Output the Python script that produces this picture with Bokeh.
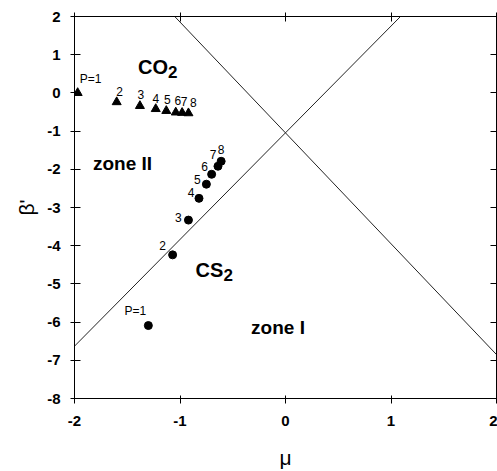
from bokeh.plotting import figure
from bokeh.models import Range1d, LinearAxis, FixedTicker, ColumnDataSource
from bokeh.core.properties import value
from bokeh.embed import file_html
from bokeh.resources import INLINE

# ---- data ----
mu_ticks = [-2, -1, 0, 1, 2]
mu_tick_labels = ["-2", "-1", "0", "1", "2"]
beta_ticks = [2, 1, 0, -1, -2, -3, -4, -5, -6, -7, -8]
beta_tick_labels = ["2", "1", "0", "-1", "-2", "-3", "-4", "-5", "-6", "-7", "-8"]

co2_P = ["P=1", "2", "3", "4", "5", "6", "7", "8"]
co2_mu = [-1.97, -1.60, -1.38, -1.23, -1.13, -1.04, -0.98, -0.92]
co2_beta = [0.00, -0.24, -0.34, -0.42, -0.47, -0.51, -0.52, -0.53]

cs2_P = ["P=1", "2", "3", "4", "5", "6", "7", "8"]
cs2_mu = [-1.30, -1.07, -0.92, -0.82, -0.75, -0.70, -0.64, -0.61]
cs2_beta = [-6.09, -4.24, -3.33, -2.76, -2.39, -2.13, -1.92, -1.79]

asc_mu = [-2.0, 1.09]
asc_beta = [-6.63, 2.0]
desc_mu = [-1.05, 2.0]
desc_beta = [2.0, -6.85]

# label offsets (screen pixels) - styling
co2_dx = [13, 3, 1, 0, 1, 2, 2, 5]
co2_dy = [-14, -11, -11, -10, -11, -12, -11, -11]
cs2_dx = [-13, -10, -10, -8, -9, -7, -5, 0]
cs2_dy = [-15, -9, -3, -6, -5, -8, -12, -12]

FONT = "Liberation Sans"

p = figure(width=497, height=471, output_backend="svg", toolbar_location=None,
           x_range=Range1d(-2, 2), y_range=Range1d(-8, 2),
           min_border_left=74, min_border_right=1, min_border_top=16, min_border_bottom=72)
p.background_fill_color = "white"
p.border_fill_color = "white"
p.outline_line_color = "black"
p.outline_line_width = 1
p.xgrid.visible = False
p.ygrid.visible = False

def style_axis(ax, ticks, labels, show_labels=True, tin=4, tout=5, standoff=10):
    ax.ticker = FixedTicker(ticks=ticks)
    if show_labels:
        ax.major_label_overrides = {t: l for t, l in zip(ticks, labels)}
    else:
        ax.major_label_overrides = {t: "" for t in ticks}
    ax.minor_tick_line_color = None
    ax.major_tick_in = tin
    ax.major_tick_out = tout
    ax.axis_line_color = "black"
    ax.major_tick_line_color = "black"
    ax.major_label_text_font = FONT
    ax.major_label_text_font_style = "bold"
    ax.major_label_text_font_size = "15px"
    ax.major_label_text_color = "black"
    ax.major_label_standoff = standoff

style_axis(p.xaxis[0], mu_ticks, mu_tick_labels, tin=3, tout=5, standoff=12)
style_axis(p.yaxis[0], beta_ticks, beta_tick_labels, tin=6, tout=4, standoff=10)
p.xaxis.axis_label = "μ"
p.yaxis.axis_label = "β'"
for ax in (p.xaxis[0], p.yaxis[0]):
    ax.axis_label_text_font = FONT
    ax.axis_label_text_font_style = "normal"
    ax.axis_label_text_font_size = "21px"
    ax.axis_label_text_color = "black"
p.xaxis.axis_label_standoff = 17
p.yaxis.axis_label_standoff = 6

top = LinearAxis()
style_axis(top, mu_ticks, mu_tick_labels, show_labels=False, tin=5, tout=4, standoff=0)
p.add_layout(top, "above")
right = LinearAxis()
style_axis(right, beta_ticks, beta_tick_labels, show_labels=False, tin=6, tout=0, standoff=0)
p.add_layout(right, "right")

# boundary lines
p.line(asc_mu, asc_beta, line_color="#222222", line_width=1)
p.line(desc_mu, desc_beta, line_color="#222222", line_width=1)

co2 = ColumnDataSource(dict(mu=co2_mu, beta=co2_beta, P=co2_P, dx=co2_dx, dy=co2_dy))
cs2 = ColumnDataSource(dict(mu=cs2_mu, beta=cs2_beta, P=cs2_P, dx=cs2_dx, dy=cs2_dy))

p.scatter("mu", "beta", source=co2, marker="triangle", size=9, fill_color="black", line_color="black")
p.scatter("mu", "beta", source=cs2, marker="circle", size=8, fill_color="black", line_color="black")

for src in (co2, cs2):
    p.text("mu", "beta", text="P", source=src, x_offset="dx", y_offset="dy",
           text_font=value(FONT), text_font_size="12px", text_align="center",
           text_baseline="middle", text_color="black")

# region labels
def region(x, y, main, sub, sub_dx):
    p.text([x], [y], text=[main], text_font=value(FONT), text_font_size="20px",
           text_font_style="bold", text_align="left", text_baseline="middle", text_color="black")
    if sub:
        p.text([x], [y], text=[sub], x_offset=sub_dx, y_offset=5, text_font=value(FONT),
               text_font_size="17px", text_font_style="bold", text_align="left",
               text_baseline="middle", text_color="black")

region(-1.398, 0.67, "CO", "2", 30)
region(-0.853, -4.63, "CS", "2", 28)
p.text([-1.545], [-1.84], text=["zone II"], text_font=value(FONT), text_font_size="19px",
       text_font_style="bold", text_align="center", text_baseline="middle", text_color="black")
p.text([-0.071], [-6.15], text=["zone I"], text_font=value(FONT), text_font_size="19px",
       text_font_style="bold", text_align="center", text_baseline="middle", text_color="black")

open("out.html", "w").write(file_html(p, INLINE))
